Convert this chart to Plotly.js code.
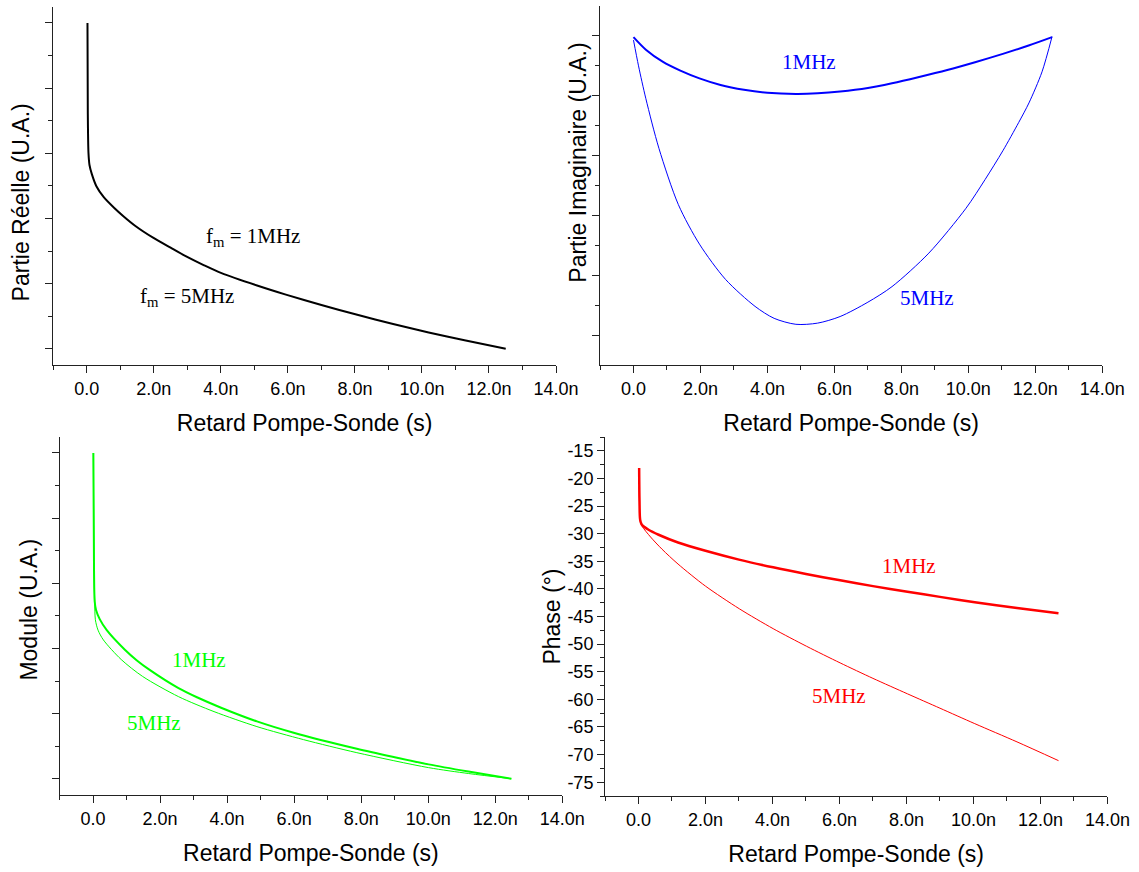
<!DOCTYPE html>
<html>
<head>
<meta charset="utf-8">
<script src="https://cdn.plot.ly/plotly-3.0.1.min.js"></script>
<style>html,body{margin:0;padding:0;background:#fff;}#chart{width:1139px;height:872px;}</style>
</head>
<body>
<div id="chart"></div>
<script>
// ---------- data (time in ns) ----------
const realT = [0.02, 0.03, 0.05, 0.08, 0.15, 0.29, 0.5, 0.82, 1.1, 1.46, 1.99, 2.5, 2.95, 3.5, 4.02, 5.08, 5.94, 7.0, 8.07, 9.14, 10.2, 11.27, 12.5];
const realV = [5.0, 3.6, 3.0, 2.82, 2.68, 2.49, 2.33, 2.16, 2.03, 1.88, 1.70, 1.55, 1.42, 1.28, 1.16, 0.97, 0.83, 0.67, 0.52, 0.38, 0.25, 0.13, 0.0];

const imagT1 = [0, 0.37, 0.87, 1.4, 1.97, 2.6, 3.3, 4.0, 4.85, 5.5, 6.17, 7.0, 7.72, 8.5, 9.37, 10.2, 11.03, 11.8, 12.5];
const imagV1 = [4.98, 4.77, 4.57, 4.42, 4.29, 4.18, 4.10, 4.05, 4.03, 4.04, 4.07, 4.13, 4.21, 4.31, 4.43, 4.56, 4.70, 4.84, 4.98];
const imagT5 = [0, 0.15, 0.37, 0.76, 1.34, 1.97, 2.75, 3.63, 4.2, 4.85, 5.5, 6.17, 7.0, 7.72, 8.82, 9.93, 10.5, 11.03, 11.5, 11.81, 12.2, 12.5];
const imagV5 = [4.93, 4.5, 3.95, 3.12, 2.18, 1.52, 0.93, 0.48, 0.28, 0.18, 0.20, 0.31, 0.55, 0.81, 1.37, 2.12, 2.6, 3.08, 3.55, 3.88, 4.4, 4.99];

const modT1 = [0.01, 0.03, 0.05, 0.09, 0.2, 0.41, 0.95, 1.3, 1.69, 2.55, 3.1, 3.82, 4.89, 5.96, 7.87, 9.0, 10.01, 11.2, 12.48];
const modV1 = [5.0, 3.2, 2.72, 2.59, 2.45, 2.28, 1.98, 1.82, 1.67, 1.39, 1.25, 1.09, 0.88, 0.71, 0.46, 0.33, 0.22, 0.11, 0.0];
const modT5 = [0.01, 0.03, 0.05, 0.07, 0.15, 0.31, 0.84, 1.48, 2.55, 3.61, 4.89, 6.28, 7.87, 10.01, 11.2, 12.48];
const modV5 = [5.0, 3.2, 2.72, 2.44, 2.28, 2.13, 1.83, 1.57, 1.26, 1.03, 0.80, 0.60, 0.40, 0.17, 0.08, 0.0];

const phT1 = [0.02, 0.03, 0.05, 0.1, 0.3, 0.6, 1.18, 2.0, 3.0, 4.02, 5.0, 6.02, 7.0, 8.03, 9.0, 10.04, 11.3, 12.54];
const phV1 = [-18.1, -24, -27.5, -28.4, -29.3, -30.2, -31.6, -33.1, -34.7, -36.1, -37.3, -38.45, -39.5, -40.5, -41.45, -42.4, -43.45, -44.4];
const phT5 = [0.02, 0.03, 0.05, 0.1, 0.36, 0.7, 1.18, 2.0, 3.01, 4.02, 5.02, 6.02, 7.0, 8.03, 9.0, 10.04, 11.3, 12.54];
const phV5 = [-21.5, -25, -27.8, -28.6, -30.6, -32.8, -35.5, -39.5, -43.6, -47.2, -50.4, -53.4, -56.2, -59.0, -61.6, -64.4, -67.7, -71.1];

// ---------- tick labels ----------
const xTickVals = [0, 2, 4, 6, 8, 10, 12, 14];
const xTickText = ['0.0', '2.0n', '4.0n', '6.0n', '8.0n', '10.0n', '12.0n', '14.0n'];
const xMinorVals = [-1, 1, 3, 5, 7, 9, 11, 13];
const uaTickVals = [0, 1, 2, 3, 4, 5];
const uaMinorVals = [0.5, 1.5, 2.5, 3.5, 4.5];
const phTickVals = [-15, -20, -25, -30, -35, -40, -45, -50, -55, -60, -65, -70, -75];
const phTickText = ['-15', '-20', '-25', '-30', '-35', '-40', '-45', '-50', '-55', '-60', '-65', '-70', '-75'];
const phMinorVals = [-17.5, -22.5, -27.5, -32.5, -37.5, -42.5, -47.5, -52.5, -57.5, -62.5, -67.5, -72.5, -77.5, -12.5];
const xTitle = 'Retard Pompe-Sonde (s)';

// ---------- styles ----------
const SANS = 'Liberation Sans, Arial, sans-serif';
const SERIF = 'Liberation Serif, Times New Roman, serif';
const AX = '#222';
const W = 1139, H = 872;

function xAxis(x0, x1, anchor) {
  return {
    domain: [x0 / W, x1 / W], anchor: anchor, range: [-1, 14],
    tickmode: 'array', tickvals: xTickVals, ticktext: xTickText,
    ticks: 'outside', ticklen: 7, tickwidth: 1, tickcolor: AX,
    minor: {tickmode: 'array', tickvals: xMinorVals, ticks: 'outside', ticklen: 4, tickwidth: 1, tickcolor: AX},
    showline: true, linecolor: AX, linewidth: 1, showgrid: false, zeroline: false,
    tickfont: {family: SANS, size: 18, color: '#000'},
    title: {text: xTitle, font: {family: SANS, size: 23, color: '#000'}, standoff: 17}
  };
}
function yAxis(y0, y1, anchor, range, vals, minor, text) {
  const a = {
    domain: [1 - y1 / H, 1 - y0 / H], anchor: anchor, range: range,
    tickmode: 'array', tickvals: vals,
    ticks: 'outside', ticklen: 7, tickwidth: 1, tickcolor: AX,
    minor: {tickmode: 'array', tickvals: minor, ticks: 'outside', ticklen: 4, tickwidth: 1, tickcolor: AX},
    showline: true, linecolor: AX, linewidth: 1, showgrid: false, zeroline: false,
    tickfont: {family: SANS, size: 18, color: '#000'}
  };
  if (text) { a.ticktext = text; a.showticklabels = true; } else { a.showticklabels = false; }
  return a;
}
function line(color, width) { return {color: color, width: width, shape: 'spline', smoothing: 0.8}; }

const traces = [
  {x: realT, y: realV, xaxis: 'x', yaxis: 'y', mode: 'lines', line: line('#000', 2)},
  {x: imagT5, y: imagV5, xaxis: 'x2', yaxis: 'y2', mode: 'lines', line: line('#0000ff', 1)},
  {x: imagT1, y: imagV1, xaxis: 'x2', yaxis: 'y2', mode: 'lines', line: line('#0000ff', 2)},
  {x: modT5, y: modV5, xaxis: 'x3', yaxis: 'y3', mode: 'lines', line: line('#00ff00', 1)},
  {x: modT1, y: modV1, xaxis: 'x3', yaxis: 'y3', mode: 'lines', line: line('#00ff00', 2)},
  {x: phT5, y: phV5, xaxis: 'x4', yaxis: 'y4', mode: 'lines', line: line('#ff0000', 1)},
  {x: phT1, y: phV1, xaxis: 'x4', yaxis: 'y4', mode: 'lines', line: line('#ff0000', 2.5)}
];

function lab(text, x, y, xr, yr, color, anchor) {
  return {text: text, x: x, y: y, xref: xr, yref: yr, showarrow: false,
    xanchor: anchor || 'center', yanchor: 'middle',
    font: {family: SERIF, size: 21, color: color}};
}
function ytitle(text, px, py) {
  return {text: text, x: px / W, y: 1 - py / H, xref: 'paper', yref: 'paper', showarrow: false,
    textangle: -90, xanchor: 'center', yanchor: 'middle',
    font: {family: SANS, size: 23, color: '#000'}};
}

const layout = {
  width: W, height: H, margin: {l: 0, r: 0, t: 0, b: 0},
  paper_bgcolor: '#fff', plot_bgcolor: 'rgba(0,0,0,0)', showlegend: false,
  xaxis: xAxis(53.3, 556, 'y'),
  yaxis: yAxis(6.7, 365, 'x', [-0.25, 5.25], uaTickVals, uaMinorVals, null),
  xaxis2: xAxis(600, 1102.3, 'y2'),
  yaxis2: yAxis(6, 365, 'x2', [-0.5, 5.5], uaTickVals, uaMinorVals, null),
  xaxis3: xAxis(59.5, 562.3, 'y3'),
  yaxis3: yAxis(436.7, 795, 'x3', [-0.25, 5.25], uaTickVals, uaMinorVals, null),
  xaxis4: xAxis(605, 1107.4, 'y4'),
  yaxis4: yAxis(437, 796, 'x4', [-77.5, -12.5], phTickVals, phMinorVals, phTickText),
  annotations: [
    lab('f<sub>m</sub> = 1MHz', 3.5, 1.72, 'x', 'y', '#000', 'left'),
    lab('f<sub>m</sub> = 5MHz', 1.52, 0.80, 'x', 'y', '#000', 'left'),
    lab('1MHz', 5.23, 4.57, 'x2', 'y2', '#0000ff'),
    lab('5MHz', 8.77, 0.62, 'x2', 'y2', '#0000ff'),
    lab('1MHz', 3.16, 1.83, 'x3', 'y3', '#00ff00'),
    lab('5MHz', 1.83, 0.86, 'x3', 'y3', '#00ff00'),
    lab('1MHz', 8.07, -35.8, 'x4', 'y4', '#ff0000'),
    lab('5MHz', 5.99, -59.4, 'x4', 'y4', '#ff0000'),
    ytitle('Partie Réelle (U.A.)', 21.4, 202),
    ytitle('Partie Imaginaire (U.A.)', 577.7, 163),
    ytitle('Module (U.A.)', 28.6, 610),
    ytitle('Phase (°)', 551.6, 617)
  ]
};

Plotly.newPlot('chart', traces, layout, {staticPlot: true, displayModeBar: false});
</script>
</body>
</html>
